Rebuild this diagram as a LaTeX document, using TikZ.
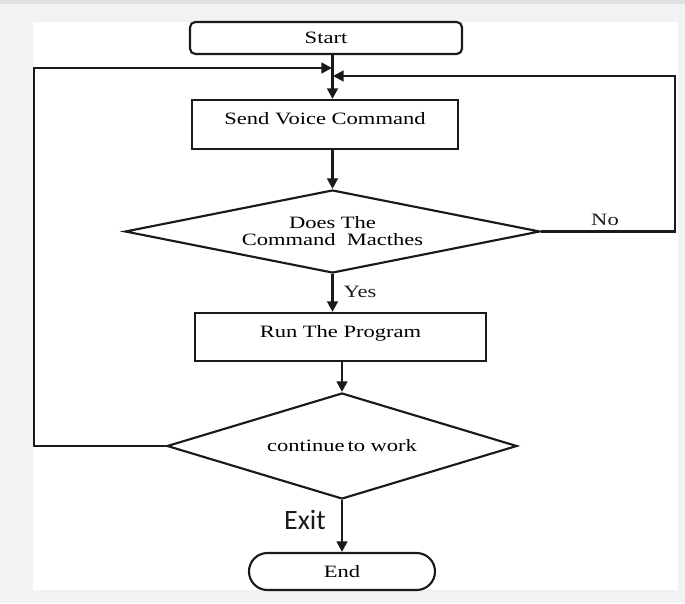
\documentclass[tikz,border=0pt]{standalone}
\usepackage{fontspec}
\setmainfont{Liberation Serif}[FakeStretch=1.3]
\newfontfamily\exitfont{Carlito}
\usetikzlibrary{shapes.geometric,arrows.meta}
\definecolor{ink}{HTML}{1A1A1A}
\tikzset{
  box/.style={draw=ink, line width=1.6pt, rectangle, inner sep=0pt, text height=5pt, text depth=5pt},
  startbox/.style={draw=ink, line width=1.6pt, rectangle, rounded corners=4pt, inner sep=0pt},
  endbox/.style={draw=ink, line width=1.6pt, rectangle, rounded corners=13.8pt, inner sep=0pt},
  decision/.style={draw=ink, line width=1.6pt, diamond, inner sep=0pt, align=center},
  flow/.style={draw=ink, line width=2.2pt, -{Triangle[length=8pt,width=8pt]}},
  loop/.style={draw=ink, line width=1.8pt, -{Triangle[length=8pt,width=8pt]}},
  lbl/.style={inner sep=0pt, text=ink},
}
\begin{document}
\begin{tikzpicture}[x=0.75pt,y=-0.75pt, font=\fontsize{13pt}{12.75pt}\selectfont]
\useasboundingbox (0,0) rectangle (685,603);
% background
\fill[black!5] (0,0) rectangle (685,603);
\fill[black!12] (0,0) rectangle (685,4);
\fill[white] (33,22) rectangle (678,590);

\node[startbox, minimum width=204pt, minimum height=24pt] (start) at (326,38) {Start};
\node[box, minimum width=199.5pt, minimum height=36.75pt] (send) at (325,124.5) {Send Voice Command};
\node[decision, aspect=5, minimum width=311.25pt, minimum height=62.25pt] (d1) at (332.5,231.5) {Does The\\Command\ \ Macthes};
\node[box, minimum width=218.25pt, minimum height=36pt] (run) at (340.5,337) {Run The Program};
\node[decision, aspect=3.3, minimum width=262.5pt, minimum height=79.5pt] (d2) at (342,446) {continue\,to work};
\node[endbox, minimum width=139.5pt, minimum height=27.75pt] (end) at (342,571.5) {End};

% main flow
\draw[flow] (start.south -| d1.north) -- (send.north -| d1.north);
\draw[flow] (send.south -| d1.north) -- (d1.north);
\draw[flow] (d1.south) -- (run.north -| d1.south);
\draw[flow] (run.south -| d2.north) -- (d2.north);
\draw[flow] (d2.south) -- (end.north);

% loops
\coordinate (ljoin) at (332,68);
\coordinate (rjoin) at (333,76);
\draw[loop] (d2.west) -- (34,446) -- (34,68) -- (ljoin);
\draw[loop] (d1.east) -- (675,231.5) -- (675,76) -- (rjoin);

% labels
\node[lbl] (no) at (605,220) {No};
\node[lbl] (yes) at (360,292) {Yes};
\node[lbl, font=\exitfont\fontsize{21pt}{24pt}\selectfont] (exit) at (305,520) {Exit};
\end{tikzpicture}
\end{document}
